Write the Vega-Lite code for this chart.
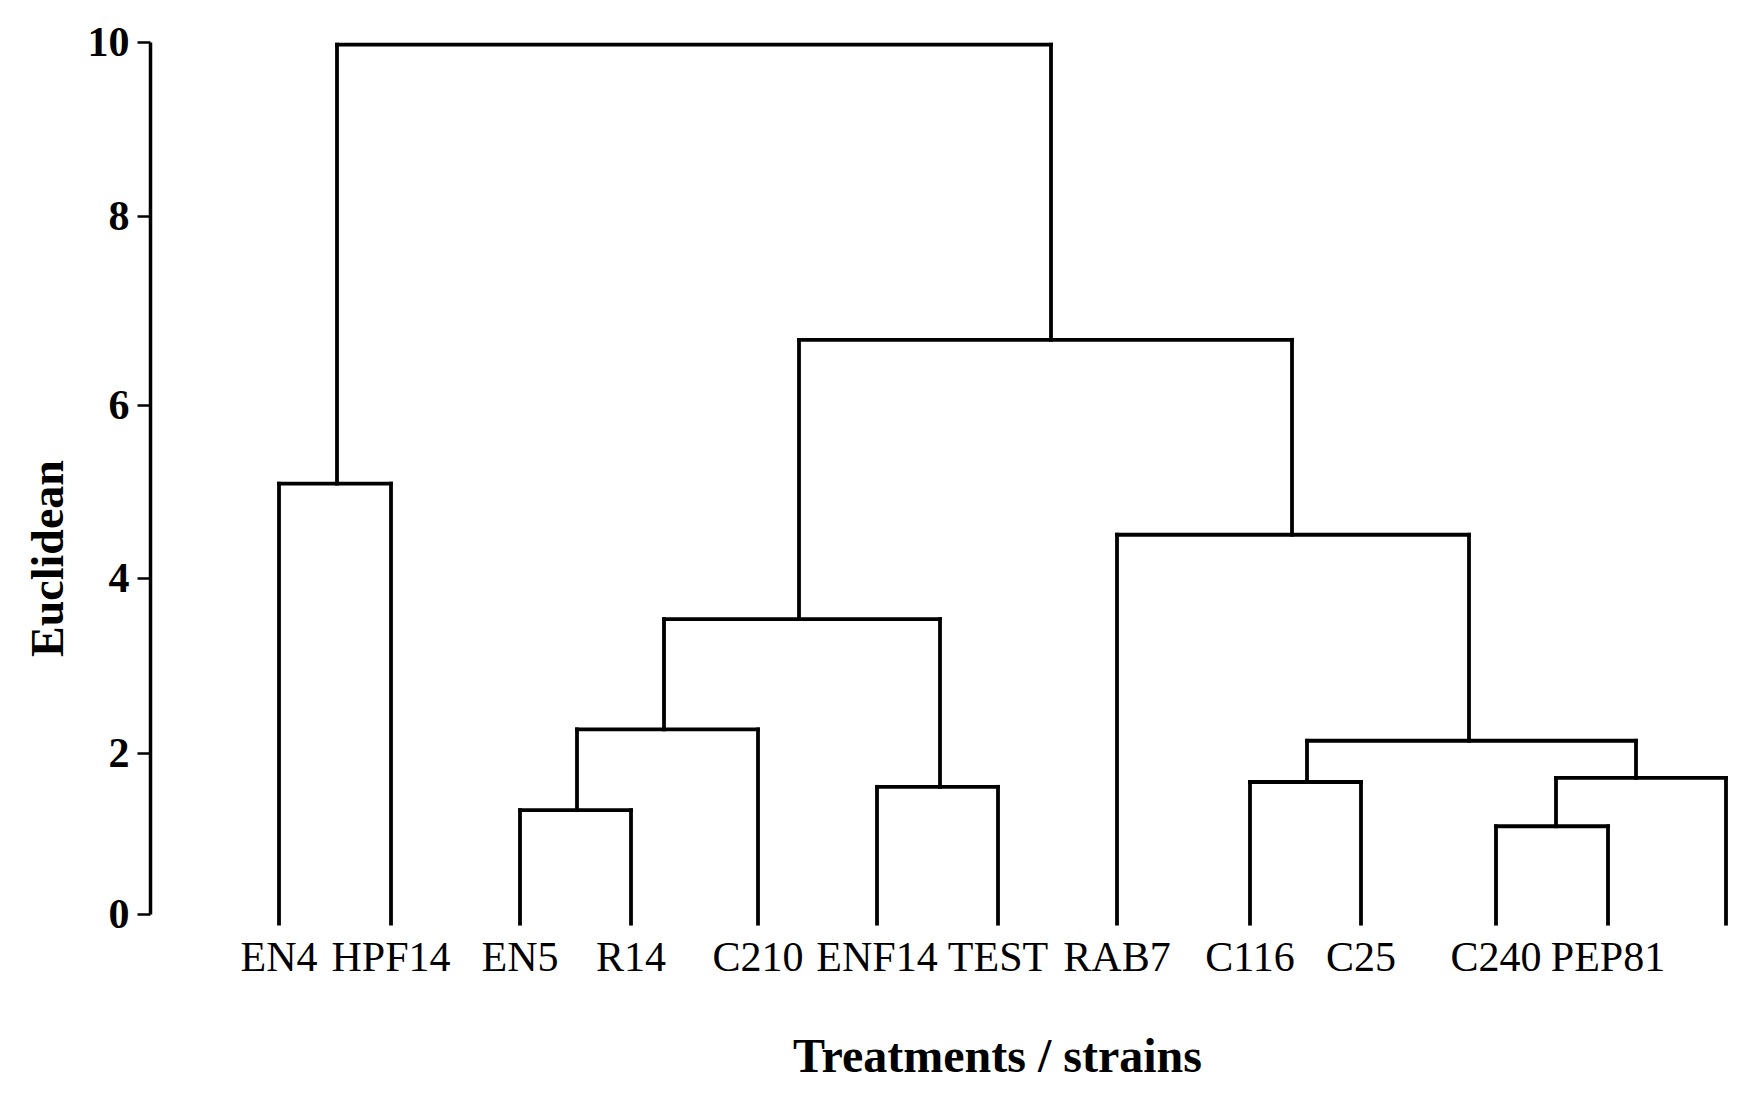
{
  "$schema": "https://vega.github.io/schema/vega-lite/v6.json",
  "width": 1590,
  "height": 872,
  "autosize": {"type": "none"},
  "padding": {"left": 150, "top": 42, "right": 19, "bottom": 186},
  "background": "white",
  "config": {"view": {"stroke": null}, "font": "Liberation Serif"},
  "datasets": {
    "merges": [
      {"node": "A", "left": 129, "right": 241, "height": 5.09, "leftBase": -0.12, "rightBase": -0.12},
      {"node": "B", "left": 370, "right": 481, "height": 1.29, "leftBase": -0.12, "rightBase": -0.12},
      {"node": "C", "left": 427, "right": 608, "height": 2.27, "leftBase": 1.29, "rightBase": -0.12},
      {"node": "D", "left": 727, "right": 848, "height": 1.58, "leftBase": -0.12, "rightBase": -0.12},
      {"node": "E", "left": 514, "right": 790, "height": 3.53, "leftBase": 2.27, "rightBase": 1.58},
      {"node": "F", "left": 1100, "right": 1211, "height": 1.64, "leftBase": -0.12, "rightBase": -0.12},
      {"node": "G", "left": 1346, "right": 1458, "height": 1.09, "leftBase": -0.12, "rightBase": -0.12},
      {"node": "H", "left": 1406, "right": 1576, "height": 1.69, "leftBase": 1.09, "rightBase": -0.12},
      {"node": "I", "left": 1157, "right": 1486, "height": 2.14, "leftBase": 1.64, "rightBase": 1.69},
      {"node": "J", "left": 967, "right": 1319, "height": 4.5, "leftBase": -0.12, "rightBase": 2.14},
      {"node": "K", "left": 649, "right": 1142, "height": 6.69, "leftBase": 3.53, "rightBase": 4.5},
      {"node": "L", "left": 187, "right": 901, "height": 9.97, "leftBase": 5.09, "rightBase": 6.69}
    ],
    "leaves": [
      {"name": "EN4", "pos": 129},
      {"name": "HPF14", "pos": 241},
      {"name": "EN5", "pos": 370},
      {"name": "R14", "pos": 481},
      {"name": "C210", "pos": 608},
      {"name": "ENF14", "pos": 727},
      {"name": "TEST", "pos": 848},
      {"name": "RAB7", "pos": 967},
      {"name": "C116", "pos": 1100},
      {"name": "C25", "pos": 1211},
      {"name": "C240", "pos": 1346},
      {"name": "PEP81", "pos": 1458},
      {"name": "", "pos": 1576}
    ]
  },
  "layer": [
    {
      "data": {"name": "merges"},
      "mark": {"type": "rule", "stroke": "black", "strokeWidth": 3.8, "strokeCap": "square"},
      "encoding": {
        "x": {
          "field": "left", "type": "quantitative",
          "scale": {"domain": [0, 1590], "nice": false, "zero": false},
          "axis": {
            "title": "Treatments / strains",
            "domain": false, "ticks": false, "labels": false, "grid": false,
            "titleFont": "Liberation Serif", "titleFontWeight": "bold", "titleFontSize": 48,
            "titleColor": "black", "titleX": 847, "titleY": 157,
            "titleBaseline": "alphabetic", "titleAlign": "center"
          }
        },
        "x2": {"field": "right"},
        "y": {
          "field": "height", "type": "quantitative",
          "scale": {"domain": [0, 2, 4, 6, 8, 10], "range": [872, 711, 536, 363, 174, 0], "nice": false, "zero": false},
          "axis": {
            "title": "Euclidean",
            "values": [0, 2, 4, 6, 8, 10],
            "format": "d",
            "grid": false,
            "domain": true, "domainColor": "black", "domainWidth": 3.5,
            "ticks": true, "tickColor": "black", "tickWidth": 2.5, "tickSize": 13,
            "labelFont": "Liberation Serif", "labelFontWeight": "bold", "labelFontSize": 42,
            "labelColor": "black", "labelPadding": 8, "labelFlush": false, "labelOverlap": false,
            "titleFont": "Liberation Serif", "titleFontWeight": "bold", "titleFontSize": 46,
            "titleColor": "black", "titleX": -88, "titleY": 516,
            "titleBaseline": "alphabetic", "titleAlign": "center", "titleAngle": -90
          }
        }
      }
    },
    {
      "data": {"name": "merges"},
      "mark": {"type": "rule", "stroke": "black", "strokeWidth": 3.8, "strokeCap": "square"},
      "encoding": {
        "x": {"field": "left", "type": "quantitative"},
        "y": {"field": "leftBase", "type": "quantitative"},
        "y2": {"field": "height"}
      }
    },
    {
      "data": {"name": "merges"},
      "mark": {"type": "rule", "stroke": "black", "strokeWidth": 3.8, "strokeCap": "square"},
      "encoding": {
        "x": {"field": "right", "type": "quantitative"},
        "y": {"field": "rightBase", "type": "quantitative"},
        "y2": {"field": "height"}
      }
    },
    {
      "data": {"name": "leaves"},
      "mark": {"type": "text", "font": "Liberation Serif", "fontSize": 42, "color": "black", "align": "center", "baseline": "alphabetic", "dy": 57},
      "encoding": {
        "x": {"field": "pos", "type": "quantitative"},
        "y": {"datum": 0, "type": "quantitative"},
        "text": {"field": "name"}
      }
    }
  ]
}
